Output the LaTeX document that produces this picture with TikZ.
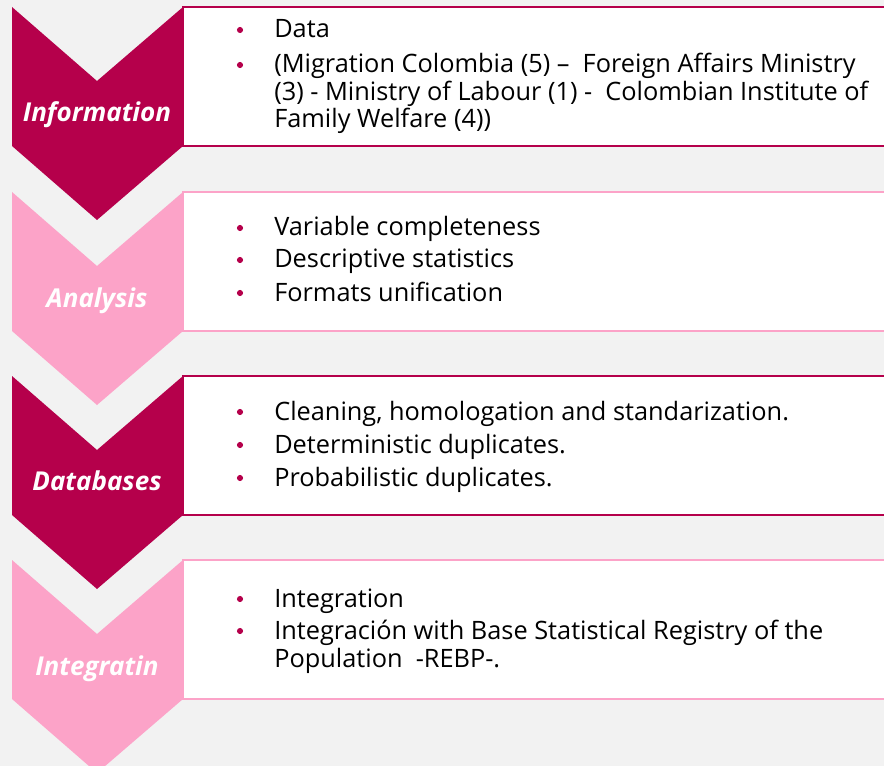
\documentclass[tikz,border=0pt]{standalone}
\usepackage{fontspec}
\setmainfont{Open Sans}
\definecolor{darkmag}{HTML}{B5004B}
\definecolor{pinkc}{HTML}{FCA3C8}
\definecolor{bgc}{HTML}{F2F2F2}
\tikzset{
  itembox/.style={fill=white, line width=0.9pt},
  itemtext/.style={anchor=base west, inner sep=0pt, font=\fontsize{19}{21}\selectfont, text=black},
  steplabel/.style={anchor=base, inner sep=0pt, font=\fontsize{19.5}{22}\selectfont\bfseries\itshape, text=white},
  bulletdot/.style={circle, fill=darkmag, inner sep=0pt, minimum size=4.6pt}
}
\newcommand{\chevshape}[3]{%
  \fill[#2] (12,#1) -- (97,#1+74) -- (183,#1) -- (183,#1+139) -- (97,#1+213) -- (12,#1+139) -- cycle;
  \draw[itembox, draw=#3] (183,#1) rectangle (900,#1+139);
}
\begin{document}
\begin{tikzpicture}[x=0.75pt,y=-0.75pt]
\useasboundingbox (0,0) rectangle (884,766);
\clip (0,0) rectangle (884,766);
\fill[bgc] (0,0) rectangle (884,766);
\chevshape{7}{darkmag}{darkmag}
\chevshape{192}{pinkc}{pinkc}
\chevshape{376}{darkmag}{darkmag}
\chevshape{560}{pinkc}{pinkc}
\node[steplabel] (l1) at (97,122) {Information};
\node[steplabel] (l2) at (97,307) {Analysis};
\node[steplabel] (l3) at (97,490) {Databases};
\node[steplabel] (l4) at (97,675) {Integratin};
% box 1
\node[bulletdot] (b11) at (240,30) {};
\node[itemtext] (t11) at (274,38) {Data};
\node[bulletdot] (b12) at (240,65) {};
\node[itemtext] (t12) at (274,73) {(Migration Colombia (5) –\ \ Foreign Affairs Ministry};
\node[itemtext] (t13) at (274,101) {(3) - Ministry of Labour (1) -\ \ Colombian Institute of};
\node[itemtext] (t14) at (274,128) {Family Welfare (4))};
% box 2
\node[bulletdot] (b21) at (240,228) {};
\node[itemtext] (t21) at (274,236) {Variable completeness};
\node[bulletdot] (b22) at (240,260) {};
\node[itemtext] (t22) at (274,268) {Descriptive statistics};
\node[bulletdot] (b23) at (240,293) {};
\node[itemtext] (t23) at (274,301) {Formats unification};
% box 3
\node[bulletdot] (b31) at (240,412) {};
\node[itemtext] (t31) at (274,420) {Cleaning, homologation and standarization.};
\node[bulletdot] (b32) at (240,445) {};
\node[itemtext] (t32) at (274,453) {Deterministic duplicates.};
\node[bulletdot] (b33) at (240,478) {};
\node[itemtext] (t33) at (274,486) {Probabilistic duplicates.};
% box 4
\node[bulletdot] (b41) at (240,599) {};
\node[itemtext] (t41) at (274,607) {Integration};
\node[bulletdot] (b42) at (240,631) {};
\node[itemtext] (t42) at (274,639) {Integración with Base Statistical Registry of the};
\node[itemtext] (t43) at (274,667) {Population\ \ -REBP-.};
\end{tikzpicture}
\end{document}
